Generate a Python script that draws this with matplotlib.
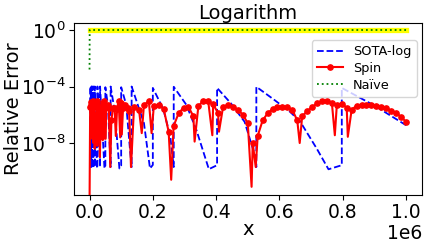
import numpy as np
import matplotlib
matplotlib.use("Agg")
import matplotlib.pyplot as plt

# ---------------- data (x in units of 1e6, values are log10 of relative error) -------------
X_SCALE = 1e6

sota_x = [0.0028, 0.0031, 0.0040, 0.0042, 0.0059, 0.00625, 0.00625, 0.0083, 0.0083, 0.0118,
          0.0125, 0.0125, 0.0167, 0.0167, 0.0236, 0.025, 0.025, 0.0333, 0.0333, 0.0472,
          0.05, 0.05, 0.058, 0.0667, 0.0667, 0.08, 0.0944, 0.1, 0.1, 0.116,
          0.128, 0.133, 0.133, 0.16, 0.172, 0.191, 0.2, 0.2, 0.233, 0.255,
          0.266, 0.266, 0.306, 0.338, 0.377, 0.403, 0.403, 0.447, 0.49, 0.52,
          0.527, 0.527, 0.581, 0.634, 0.666, 0.718, 0.755, 0.797, 0.797, 0.9, 1.0]
sota_log = [-8.6, -4.0, -9.7, -4.1, -9.8, -9.6, -4.0, -9.7, -4.0, -9.8,
            -9.6, -4.0, -9.7, -4.0, -9.8, -9.6, -4.0, -9.7, -4.0, -9.8,
            -9.6, -4.05, -5.3, -9.7, -4.0, -5.8, -9.8, -9.6, -4.05, -5.3,
            -8.5, -9.7, -4.0, -5.8, -6.6, -9.8, -9.55, -4.1, -5.6, -7.5,
            -9.7, -4.02, -5.3, -7.1, -9.85, -9.57, -4.1, -5.2, -6.5, -8.7,
            -9.7, -4.02, -4.9, -5.8, -6.5, -8.4, -9.86, -9.57, -4.1, -5.35, -6.74]

spin_arc_x = [0.002, 0.004, 0.006, 0.009, 0.0116, 0.014, 0.018, 0.022, 0.023, 0.027,
              0.030, 0.035, 0.038, 0.044, 0.046, 0.053, 0.057, 0.061, 0.069, 0.074,
              0.079, 0.087, 0.092, 0.099, 0.106, 0.113, 0.120,
              0.125, 0.1406, 0.1563, 0.1719, 0.1875, 0.2031, 0.2188, 0.2344, 0.25, 0.2656,
              0.2813, 0.2969, 0.3125, 0.3281, 0.3438, 0.3594, 0.375, 0.3906, 0.4063, 0.4219,
              0.4375, 0.4531, 0.4688, 0.4844, 0.5, 0.5156, 0.5313, 0.5469, 0.5625, 0.5781,
              0.5938, 0.6094, 0.625, 0.6406, 0.6563, 0.6719, 0.6875, 0.7031, 0.7188, 0.7344,
              0.75, 0.7656, 0.7813, 0.7969, 0.8125, 0.8281, 0.8438, 0.8594, 0.875, 0.8906,
              0.9063, 0.9219, 0.9375, 0.9531, 0.9688, 0.9844, 1.0]
spin_arc_log = [-5.44, -5.1, -5.3, -5.6, -5.0, -5.4, -6.0, -5.2, -5.0, -5.4,
                -5.5, -6.4, -5.5, -5.2, -5.0, -5.4, -5.3, -5.5, -6.4, -5.5,
                -5.5, -5.6, -5.0, -5.2, -5.5, -5.3, -5.5,
                -5.7, -5.45, -5.65, -5.3, -5.05, -5.4, -5.3, -5.6, -7.2, -6.8,
                -5.9, -5.5, -5.45, -6.1, -5.4, -5.0, -5.05, -5.25, -5.9, -5.44,
                -5.3, -5.45, -5.65, -6.0, -6.6, -8.0, -7.5, -6.4, -5.9, -5.6,
                -5.48, -5.44, -5.48, -5.65, -6.4, -6.1, -5.75, -5.45, -5.2, -5.02,
                -5.02, -5.15, -5.3, -5.22, -5.5, -5.65, -5.35, -5.3, -5.3, -5.3,
                -5.38, -5.45, -5.55, -5.7, -5.88, -6.15, -6.5]

spin_dip_x = [0.0, 0.0082, 0.0104, 0.0121, 0.0164, 0.0208, 0.0243, 0.0328, 0.0416, 0.0485,
              0.051, 0.0655, 0.083, 0.097, 0.102, 0.131, 0.165, 0.196, 0.258, 0.332,
              0.388, 0.409, 0.512, 0.525, 0.664, 0.775, 0.816]
spin_dip_log = [-12.5, -7.7, -7.7, -8.0, -8.4, -8.0, -8.2, -9.0, -7.8, -7.7,
                -7.7, -9.7, -7.5, -7.6, -7.4, -9.7, -7.3, -7.3, -10.6, -7.9,
                -7.45, -7.2, -11.1, -9.7, -8.0, -7.45, -7.56]

naive_x = [0.0, 0.0005, 1.0]
naive_err = [1.6e-3, 1.0, 1.0]

highlight_x = [0.0, 1.0]
highlight_y = [1.0, 1.0]

# ---------------- figure -------------
fig = plt.figure(figsize=(4.27, 2.43), dpi=100)
ax = fig.add_axes([0.1726, 0.1975, 0.8154, 0.7091])

ax.plot(np.array(highlight_x) * X_SCALE, highlight_y, color="yellow", lw=3.8,
        solid_capstyle="projecting", zorder=1)

ax.plot(np.array(sota_x) * X_SCALE, 10.0 ** np.array(sota_log), color="blue",
        ls="--", lw=1.3, label="SOTA-log", zorder=2)

sx = np.array(spin_arc_x + spin_dip_x)
sy = np.array(spin_arc_log + spin_dip_log)
is_arc = np.array([True] * len(spin_arc_x) + [False] * len(spin_dip_x))
order = np.argsort(sx, kind="stable")
sx, sy, is_arc = sx[order], sy[order], is_arc[order]
ax.plot(sx * X_SCALE, 10.0 ** sy, color="red", lw=1.5, marker="o", ms=3.8,
        markevery=list(np.where(is_arc)[0]), label="Spin", zorder=3)

ax.plot(np.array(naive_x) * X_SCALE, naive_err, color="green", ls=":", lw=1.3,
        label="Naïve", zorder=4)

ax.set_yscale("log")
ax.set_ylim(10 ** -11.68, 10 ** 0.517)
ax.set_xlim(-0.05 * X_SCALE, 1.05 * X_SCALE)
ax.set_yticks([1e-8, 1e-4, 1.0])
ax.yaxis.set_minor_locator(matplotlib.ticker.NullLocator())
ax.set_xticks(np.array([0.0, 0.2, 0.4, 0.6, 0.8, 1.0]) * X_SCALE)

ax.tick_params(labelsize=13.5, pad=2.5)
ax.xaxis.get_offset_text().set_fontsize(13.5)
ax.xaxis.OFFSETTEXTPAD = 1.0
ax.set_title("Logarithm", fontsize=14, pad=2)
ax.set_xlabel("x", fontsize=14, labelpad=-2)
ax.set_ylabel("Relative Error", fontsize=14)
ax.yaxis.set_label_coords(-0.145, 0.5)

ax.legend(loc="upper right", bbox_to_anchor=(1.0, 0.93), fontsize=9.3, borderaxespad=0.4,
          handlelength=2.0, labelspacing=0.3)

fig.savefig("out.png", dpi=100)
